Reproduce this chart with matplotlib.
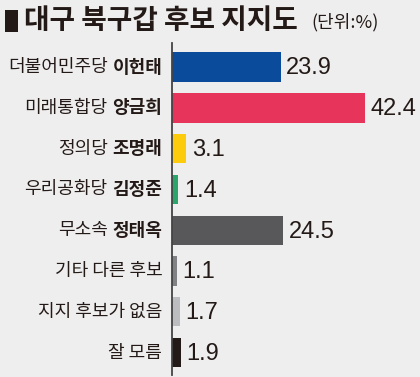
import matplotlib
matplotlib.use("Agg")
import matplotlib.pyplot as plt
from matplotlib.patches import Rectangle

plt.rcParams['font.family'] = ['Noto Sans CJK KR', 'DejaVu Sans']

# 데이터
parties = ["더불어민주당", "미래통합당", "정의당", "우리공화당", "무소속", "기타 다른 후보", "지지 후보가 없음", "잘 모름"]
names = ["이헌태", "양금희", "조명래", "김정준", "정태옥", "", "", ""]
values = [23.9, 42.4, 3.1, 1.4, 24.5, 1.1, 1.7, 1.9]
colors = ["#0b4b9c", "#e6345a", "#fccb0b", "#2ba56b", "#58585a", "#808285", "#bcbdc0", "#231916"]

BG = "#eeeeee"
INK = "#231916"

W, H = 420, 377
fig = plt.figure(figsize=(4.2, 3.77), dpi=100, facecolor=BG)

# 축 영역 (픽셀 기준)
ax_l, ax_r, ax_t, ax_b = 172, 410, 43, 375
ax = fig.add_axes([ax_l / W, 1 - ax_b / H, (ax_r - ax_l) / W, (ax_b - ax_t) / H])
ax.set_facecolor(BG)

ypos = list(range(len(values)))
ax.barh(ypos, values, height=0.72, color=colors, zorder=2)
ax.set_xlim(0, (ax_r - ax_l) / 4.55)
ax.set_ylim(7.55, -0.59)

for s in ["top", "right", "bottom"]:
    ax.spines[s].set_visible(False)
ax.spines["left"].set_color("#444444")
ax.spines["left"].set_linewidth(1.3)
ax.spines["left"].set_zorder(3)
ax.set_xticks([])
ax.set_yticks([])

# 수치 라벨
for y, v in zip(ypos, values):
    ax.annotate(f"{v}", (v, y), xytext=(4, -1), textcoords="offset points",
                ha="left", va="center", fontsize=17, family="Liberation Sans", color=INK,
                annotation_clip=False)

# 항목 라벨 (정당 보통체 + 후보 굵은체)
fig.canvas.draw()
r = fig.canvas.get_renderer()
for y, p, n in zip(ypos, parties, names):
    if n:
        t = ax.annotate(n, (0, y), xytext=(-7, 0), textcoords="offset points",
                        ha="right", va="center", fontsize=13, fontweight="bold", color=INK)
        bb = t.get_window_extent(r)
        dx = (bb.x0 - bb.x1) * 72 / fig.dpi - 7 - 3.5
        ax.annotate(p, (0, y), xytext=(dx, 0), textcoords="offset points",
                    ha="right", va="center", fontsize=13, color=INK)
    else:
        ax.annotate(p, (0, y), xytext=(-7, 0), textcoords="offset points",
                    ha="right", va="center", fontsize=13, color=INK)

# 제목
fig.patches.append(Rectangle((5 / W, 1 - 32 / H), 13 / W, 22 / H, transform=fig.transFigure,
                             facecolor=INK, edgecolor="none"))
fig.text(24 / W, 1 - 21 / H, "대구 북구갑 후보 지지도", fontsize=20, fontweight="bold",
         va="center", ha="left", color=INK)
fig.text(311 / W, 1 - 22 / H, "(단위:%)", fontsize=13, va="center", ha="left", color=INK)

fig.savefig("out.png", dpi=100, facecolor=BG)
